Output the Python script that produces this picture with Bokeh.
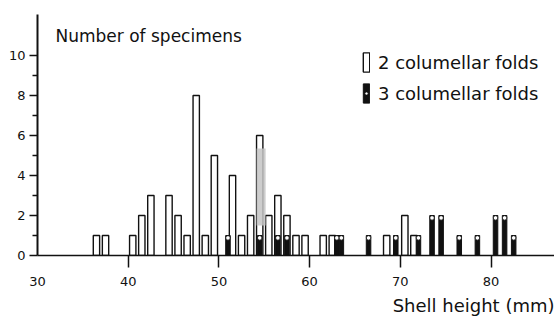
import numpy as np
from bokeh.plotting import figure
from bokeh.models import (Range1d, FixedTicker, Label, Legend, LegendItem,
                          BoxAnnotation, ColumnDataSource, LinearAxis, Title)
from bokeh.embed import file_html
from bokeh.resources import INLINE

# Shell height bins (mm) and number of specimens
two_folds_x = [36.5, 37.5, 40.5, 41.5, 42.5, 44.5, 45.5, 46.5, 47.5, 48.5, 49.5,
               51.5, 52.5, 53.5, 54.5, 55.5, 56.5, 57.5, 58.5, 59.5, 61.5, 62.5,
               68.5, 70.5, 71.5]
two_folds_n = [1, 1, 1, 2, 3, 3, 2, 1, 8, 1, 5,
               4, 1, 2, 6, 2, 3, 2, 1, 1, 1, 1,
               1, 2, 1]
three_folds_x = [51.0, 54.5, 56.5, 57.5, 63.0, 63.5, 66.5, 69.5, 72.0, 73.5,
                 74.5, 76.5, 78.5, 80.5, 81.5, 82.5]
three_folds_n = [1, 1, 1, 1, 1, 1, 1, 1, 1, 2,
                 2, 1, 1, 2, 2, 1]
x_tick_marks = [40, 50, 60, 70, 80]
x_tick_labels = [30, 40, 50, 60, 70, 80]
y_ticks = [0, 2, 4, 6, 8, 10]
y_minor_ticks = [1, 3, 5, 7, 9]
title_text = "Number of specimens"
x_title = "Shell height (mm)"
legend_labels = ["2 columellar folds", "3 columellar folds"]

FONT = "DejaVu Sans"
INK = "#111111"

W, H = 554, 320
LEFT, TOP, BOTTOM = 37, 14, 65
p = figure(width=W, height=H, output_backend="svg", toolbar_location=None,
           x_range=Range1d(30, 30 + (W - LEFT) / 9.07),
           y_range=Range1d(0, (H - TOP - BOTTOM) / 20.0),
           min_border_left=LEFT, min_border_right=0, min_border_top=TOP,
           min_border_bottom=BOTTOM)
p.outline_line_color = None
p.xgrid.visible = False
p.ygrid.visible = False
p.background_fill_color = "white"
p.border_fill_color = "white"

src2 = ColumnDataSource(dict(x=two_folds_x, top=two_folds_n))
src3 = ColumnDataSource(dict(x=three_folds_x, top=three_folds_n,
                             dot=np.array(three_folds_n, dtype=float) - 0.12))

r2 = p.vbar(x="x", top="top", bottom=0, width=0.7, source=src2,
            fill_color="white", line_color=INK, line_width=1.4)

shade = BoxAnnotation(left=54.15, right=55.15, bottom=1.5, top=5.35,
                      fill_color="#c4c4c4", fill_alpha=0.85, line_color=None)
p.add_layout(shade)

r3 = p.vbar(x="x", top="top", bottom=0, width=0.5, source=src3,
            fill_color=INK, line_color=INK, line_width=1.0)
r3d = p.scatter(x="x", y="dot", source=src3, size=4.5, marker="circle",
                fill_color="white", line_color=INK, line_width=0.8)

# x axis: tick marks (nearest the frame) ...
xa = p.xaxis[0]
xa.ticker = FixedTicker(ticks=x_tick_marks)
xa.axis_line_width = 1.6
xa.axis_line_color = INK
xa.major_tick_line_color = INK
xa.major_tick_line_width = 1.5
xa.major_tick_in = 0
xa.major_tick_out = 12
xa.minor_tick_line_color = None
xa.major_label_standoff = 0
xa.major_label_text_font_size = "1px"
xa.major_label_text_alpha = 0

# ... and tick labels on a second axis below it
xb = LinearAxis(ticker=FixedTicker(ticks=x_tick_labels))
xb.axis_line_color = None
xb.major_tick_line_color = None
xb.minor_tick_line_color = None
xb.major_tick_in = 0
xb.major_tick_out = 0
xb.minor_tick_in = 0
xb.minor_tick_out = 0
xb.major_label_standoff = 9
xb.major_label_text_font = FONT
xb.major_label_text_font_size = "13px"
xb.major_label_text_color = INK
p.add_layout(xb, "below")

ya = p.yaxis[0]
ya.ticker = FixedTicker(ticks=y_ticks, minor_ticks=y_minor_ticks)
ya.axis_line_width = 2
ya.axis_line_color = INK
ya.major_tick_line_color = INK
ya.major_tick_line_width = 1.5
ya.major_tick_in = 0
ya.major_tick_out = 8
ya.minor_tick_line_color = INK
ya.minor_tick_line_width = 1.5
ya.minor_tick_in = 0
ya.minor_tick_out = 5
ya.major_label_standoff = 4
ya.major_label_text_font = FONT
ya.major_label_text_font_size = "13px"
ya.major_label_text_color = INK

xt = Title(text=x_title, align="right", text_font=FONT, text_font_size="18px",
           text_font_style="normal", text_color=INK, offset=0, standoff=9)
p.add_layout(xt, "below")

p.add_layout(Label(x=18, y=220, x_units="screen", y_units="screen", text=title_text,
                   text_font=FONT, text_font_size="17px", text_color=INK,
                   text_baseline="alphabetic"))

legend = Legend(items=[LegendItem(label=legend_labels[0], renderers=[r2]),
                       LegendItem(label=legend_labels[1], renderers=[r3, r3d])],
                location=(325, 150), orientation="vertical",
                glyph_width=8, glyph_height=24, label_height=24,
                label_standoff=8, spacing=7, padding=0, margin=0,
                border_line_color=None, background_fill_alpha=0,
                label_text_font=FONT, label_text_font_size="18px",
                label_text_color=INK)
p.add_layout(legend, "center")

open("out.html", "w").write(file_html(p, INLINE))
